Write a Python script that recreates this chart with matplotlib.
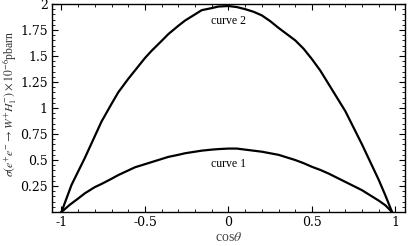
import matplotlib
matplotlib.use("Agg")
import matplotlib.pyplot as plt
from matplotlib.ticker import MultipleLocator, FixedLocator, FixedFormatter

cos_theta1 = [-1.0, -0.95, -0.9, -0.86, -0.8, -0.76, -0.7, -0.66, -0.6, -0.56, -0.5, -0.46,
              -0.4, -0.36, -0.3, -0.26, -0.2, -0.16, -0.1, -0.06, 0.0,
              0.05, 0.1, 0.15, 0.2, 0.25, 0.3, 0.35, 0.4, 0.45, 0.5, 0.55, 0.6, 0.65,
              0.7, 0.75, 0.8, 0.85, 0.9, 0.94, 0.98]
curve1 = [0.0, 0.07, 0.13, 0.18, 0.24, 0.27, 0.32, 0.355, 0.40, 0.43, 0.46, 0.48,
          0.51, 0.53, 0.55, 0.565, 0.58, 0.59, 0.60, 0.605, 0.61,
          0.61, 0.60, 0.59, 0.58, 0.565, 0.55, 0.525, 0.50, 0.47, 0.435, 0.405, 0.37, 0.33,
          0.29, 0.25, 0.21, 0.16, 0.11, 0.065, 0.0]
cos_theta2 = [-1.0, -0.97, -0.94, -0.9, -0.86, -0.8, -0.76, -0.7, -0.66, -0.6, -0.56, -0.5,
              -0.46, -0.4, -0.36, -0.3, -0.26, -0.2, -0.16, -0.1, -0.06, 0.0,
              0.05, 0.1, 0.15, 0.2, 0.25, 0.3, 0.35, 0.4, 0.45, 0.5, 0.55, 0.6, 0.65,
              0.7, 0.75, 0.8, 0.85, 0.9, 0.94, 0.98]
curve2 = [0.0, 0.13, 0.26, 0.39, 0.52, 0.73, 0.87, 1.04, 1.15, 1.28, 1.36, 1.48,
          1.55, 1.645, 1.71, 1.79, 1.84, 1.90, 1.94, 1.96, 1.975, 1.98,
          1.97, 1.95, 1.925, 1.89, 1.835, 1.77, 1.71, 1.65, 1.57, 1.47, 1.36, 1.23, 1.10,
          0.97, 0.81, 0.65, 0.48, 0.31, 0.16, 0.0]
xticks = [-1, -0.5, 0, 0.5, 1]
xticklabels = ["-1", "-0.5", "0", "0.5", "1"]
yticks = [0.25, 0.5, 0.75, 1, 1.25, 1.5, 1.75, 2]
yticklabels = ["0.25", "0.5", "0.75", "1", "1.25", "1.5", "1.75", "2"]

plt.rcParams['font.family'] = ['DejaVu Serif']
plt.rcParams['mathtext.fontset'] = 'stix'

fig = plt.figure(figsize=(4.09, 2.46), dpi=100)
ax = fig.add_axes([0.127, 0.138, 0.863, 0.846])
ax.plot(cos_theta1, curve1, color='black', lw=1.6)
ax.plot(cos_theta2, curve2, color='black', lw=1.6)
ax.set_xlim(-1.057, 1.057)
ax.set_ylim(0, 2.0)

ax.xaxis.set_major_locator(FixedLocator(xticks))
ax.xaxis.set_major_formatter(FixedFormatter(xticklabels))
ax.yaxis.set_major_locator(FixedLocator(yticks))
ax.yaxis.set_major_formatter(FixedFormatter(yticklabels))
ax.xaxis.set_minor_locator(MultipleLocator(0.1))
ax.yaxis.set_minor_locator(MultipleLocator(0.05))
ax.tick_params(which='both', direction='in', top=True, right=True, labelsize=9, pad=3)
ax.tick_params(which='major', length=4, width=0.8)
ax.tick_params(which='minor', length=2, width=0.6)
for s in ax.spines.values():
    s.set_linewidth(1.0)

ax.text(0, 1.84, 'curve 2', ha='center', va='center', fontsize=8.5, family='Liberation Serif')
ax.text(0, 0.46, 'curve 1', ha='center', va='center', fontsize=8.5, family='Liberation Serif')
ax.set_xlabel(r'cos$\theta$', fontsize=10, color='#444444', labelpad=1, family='Liberation Serif')
ax.set_ylabel(r'$\sigma(e^{+}e^{-}\rightarrow W^{+}H_1^{-})\times10^{-6}$pbarn', fontsize=8.5,
              color='#333333', family='Liberation Serif')
ax.yaxis.set_label_coords(-0.095, 0.52)

fig.savefig('out.png', dpi=100)
